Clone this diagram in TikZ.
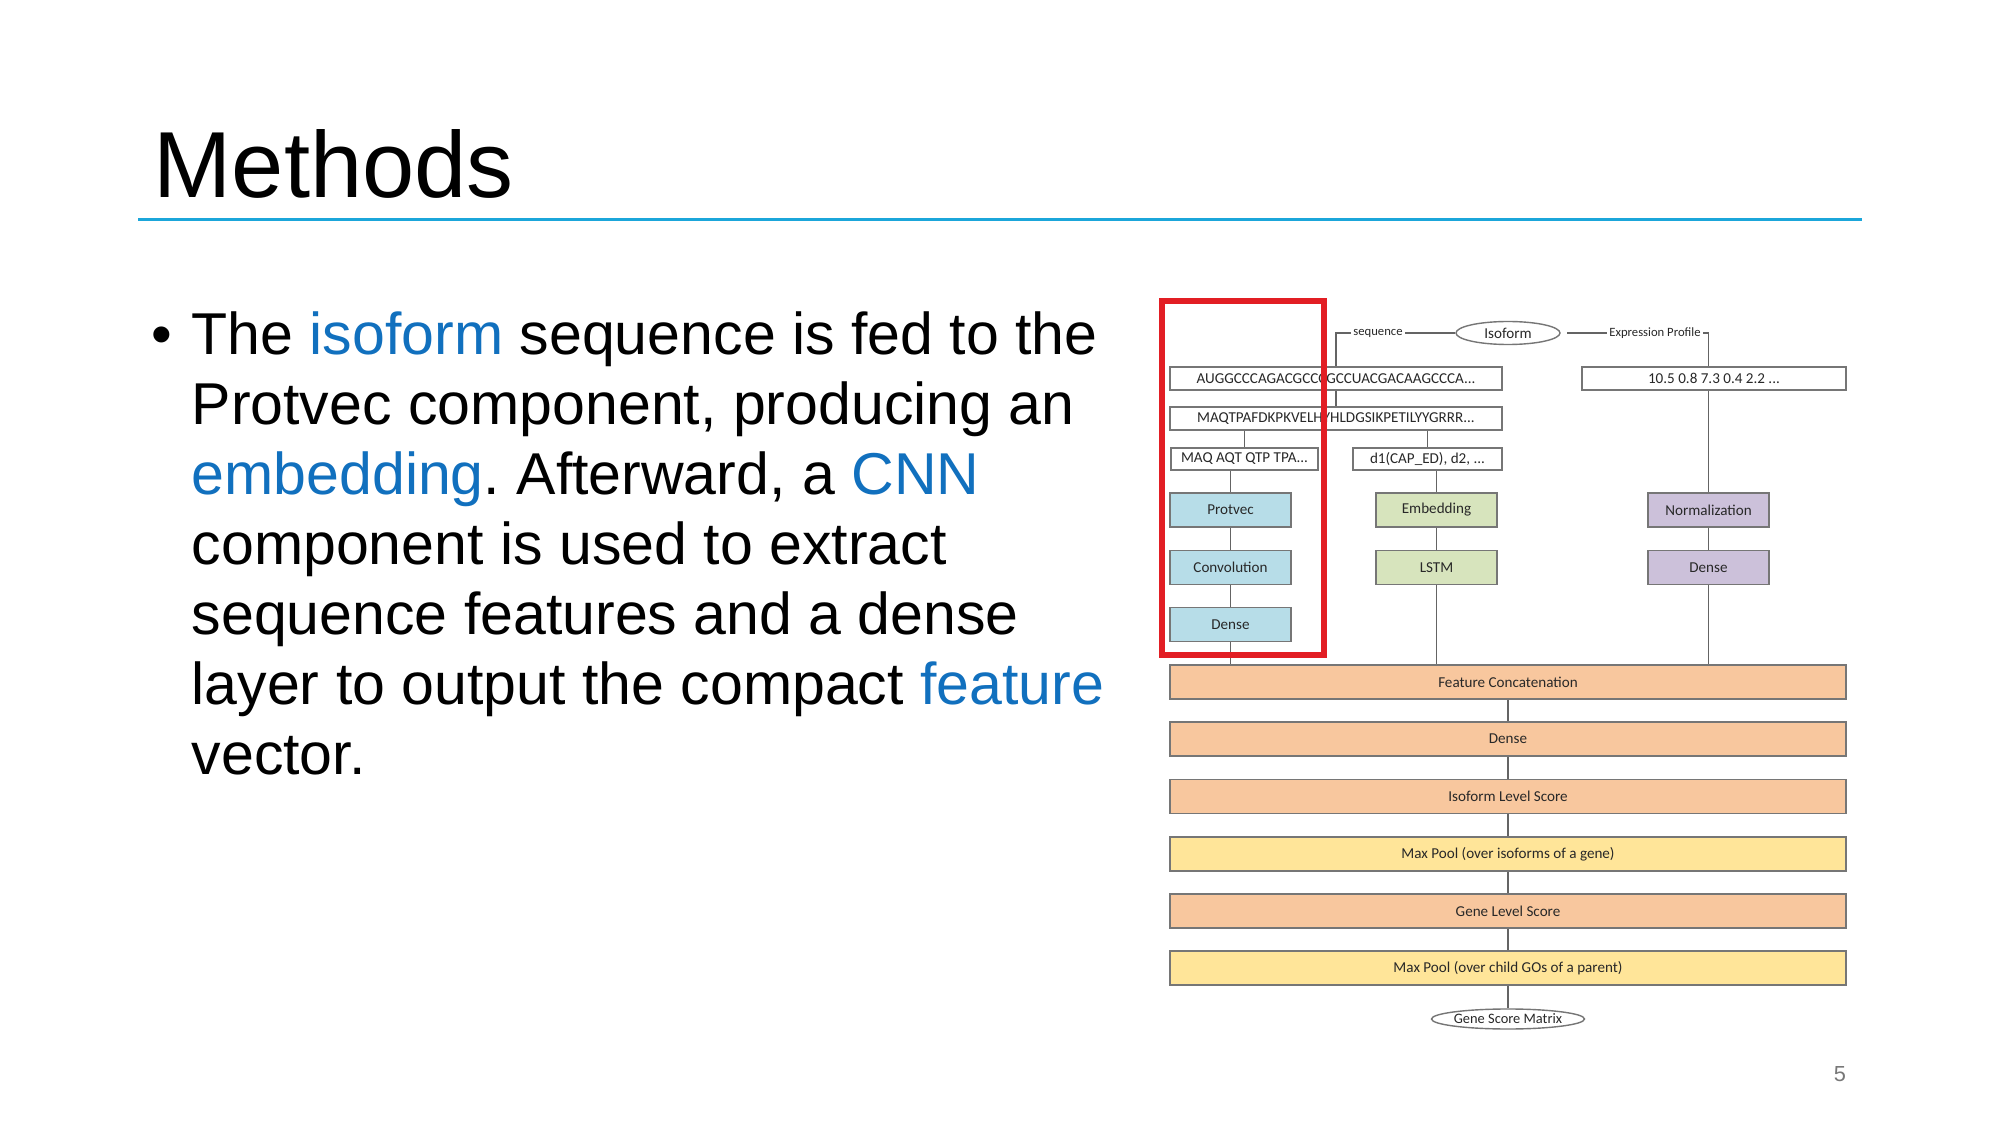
\documentclass[tikz,border=0pt]{standalone}
\usepackage{fontspec}
\setmainfont{Liberation Sans}
\newfontfamily\diagfont{Carlito}
\usetikzlibrary{shapes.geometric}
\definecolor{titleline}{RGB}{27,166,218}
\definecolor{hlblue}{RGB}{17,112,190}
\definecolor{hlred}{RGB}{226,30,36}
\definecolor{boxline}{RGB}{118,118,118}
\definecolor{connline}{RGB}{100,100,100}
\definecolor{dtext}{RGB}{40,40,40}
\definecolor{fblue}{RGB}{183,221,232}
\definecolor{fgreen}{RGB}{215,228,189}
\definecolor{fpurple}{RGB}{204,193,218}
\definecolor{forange}{RGB}{248,199,158}
\definecolor{fyellow}{RGB}{255,229,153}
\definecolor{pagegray}{RGB}{120,120,120}
\newcommand{\bl}[1]{\textcolor{hlblue}{#1}}
\frenchspacing
\tikzset{
  bodyline/.style={anchor=base west, inner sep=0pt, font=\fontsize{16.8}{20}\selectfont},
  dbox/.style={draw=boxline, line width=0.14mm, inner sep=0.5pt, text=dtext,
     font=\diagfont\fontsize{4.3}{5}\selectfont},
  seqbox/.style={dbox, fill=white, minimum height=2.3mm},
  layerbox/.style={dbox, minimum width=12.1mm, minimum height=3.4mm},
  widebox/.style={dbox, minimum width=67.6mm, minimum height=3.4mm, fill=forange},
  oval/.style={ellipse, draw=boxline, line width=0.14mm, fill=white, inner sep=0pt, text=dtext},
  edgelabel/.style={inner sep=0.6pt, text=dtext, font=\diagfont\fontsize{3.6}{4}\selectfont},
  conn/.style={draw=connline, line width=0.14mm},
}
\begin{document}
\begin{tikzpicture}[x=0.1mm, y=-0.1mm]
\useasboundingbox (0,0) rectangle (2000,1125);
\fill[white] (0,0) rectangle (2000,1125);

% title
\node[anchor=base west, inner sep=0pt, font=\fontsize{26.7}{30}\selectfont] (title) at (153,198) {Methods};
\coordinate (tl1) at (138,220);
\coordinate (tl2) at (1862,220);
\draw[titleline, line width=0.3mm] (tl1) -- (tl2);

% bullet text
\node[bodyline] (bul) at (151,355) {\textbullet};
\node[bodyline] (b1) at (191,355) {The \bl{isoform} sequence is fed to the};
\node[bodyline] (b2) at (191,425) {Protvec component, producing an};
\node[bodyline] (b3) at (191,495) {\bl{embedding}. Afterward, a \bl{CNN}};
\node[bodyline] (b4) at (191,565) {component is used to extract};
\node[bodyline] (b5) at (191,635) {sequence features and a dense};
\node[bodyline] (b6) at (191,705) {layer to output the compact \bl{feature}};
\node[bodyline] (b7) at (191,775) {vector.};

% page number
\node[inner sep=0pt, text=pagegray, font=\fontsize{6.2}{7}\selectfont] (pg) at (1840,1074) {5};

% diagram top
\node[oval, minimum width=10.4mm, minimum height=2.3mm, font=\diagfont\fontsize{4.3}{5}\selectfont] (iso) at (1508,333) {Isoform};
\node[edgelabel] (seqlab) at (1378,333) {sequence};
\node[edgelabel] (exlab) at (1655,333) {Expression Profile};
\coordinate (isogap) at (1567,333);

\node[seqbox, minimum width=33.2mm] (aug) at (1336,378.5) {AUGGCCCAGACGCCCGCCUACGACAAGCCCA...};
\node[seqbox, minimum width=33.2mm] (maqtp) at (1336,418.5) {MAQTPAFDKPKVELHYHLDGSIKPETILYYGRRR...};
\node[seqbox, minimum width=14.7mm, minimum height=2.2mm] (maq) at (1244.5,459) {MAQ AQT QTP TPA...};
\node[seqbox, minimum width=14.9mm, minimum height=2.2mm] (d1) at (1427.5,459) {d1(CAP\_ED), d2, ...};
\node[seqbox, minimum width=26.4mm] (expr) at (1714,378.5) {10.5 0.8 7.3 0.4 2.2 ...};

\node[layerbox, fill=fblue] (protvec) at (1230.5,510) {Protvec};
\node[layerbox, fill=fblue] (conv) at (1230.5,567.5) {Convolution};
\node[layerbox, fill=fblue] (dense1) at (1230.5,624.5) {Dense};
\node[layerbox, fill=fgreen] (emb) at (1436.5,510) {Embedding};
\node[layerbox, fill=fgreen] (lstm) at (1436.5,567.5) {LSTM};
\node[layerbox, fill=fpurple] (norm) at (1708.5,510) {Normalization};
\node[layerbox, fill=fpurple] (dense2) at (1708.5,567.5) {Dense};

\node[widebox] (fc) at (1508,682) {Feature Concatenation};
\node[widebox] (dense3) at (1508,739) {Dense};
\node[widebox] (isol) at (1508,796.5) {Isoform Level Score};
\node[widebox, fill=fyellow] (mp1) at (1508,854) {Max Pool (over isoforms of a gene)};
\node[widebox] (gene) at (1508,911) {Gene Level Score};
\node[widebox, fill=fyellow] (mp2) at (1508,968) {Max Pool (over child GOs of a parent)};
\node[oval, minimum width=14.7mm, minimum height=2.0mm, font=\diagfont\fontsize{4.1}{5}\selectfont] (gsm) at (1508,1019) {Gene Score Matrix};

% connectors
\draw[conn] (iso.west) -- (seqlab.east);
\draw[conn] (seqlab.west) -| (aug.north);
\draw[conn] (aug.south) -- (maqtp.north);
\draw[conn] (maqtp.south -| maq.north) -- (maq.north);
\draw[conn] (maqtp.south -| d1.north) -- (d1.north);
\draw[conn] (maq.south -| protvec.north) -- (protvec.north);
\draw[conn] (d1.south -| emb.north) -- (emb.north);
\draw[conn] (isogap) -- (exlab.west);
\draw[conn] (exlab.east) -| (expr.north -| norm.north);
\draw[conn] (expr.south -| norm.north) -- (norm.north);
\draw[conn] (protvec) -- (conv);
\draw[conn] (conv) -- (dense1);
\draw[conn] (dense1.south) -- (dense1.south |- fc.north);
\draw[conn] (emb) -- (lstm);
\draw[conn] (lstm.south) -- (lstm.south |- fc.north);
\draw[conn] (norm) -- (dense2);
\draw[conn] (dense2.south) -- (dense2.south |- fc.north);
\draw[conn] (fc) -- (dense3);
\draw[conn] (dense3) -- (isol);
\draw[conn] (isol) -- (mp1);
\draw[conn] (mp1) -- (gene);
\draw[conn] (gene) -- (mp2);
\draw[conn] (mp2) -- (gsm);

% highlight box
\node[draw=hlred, line width=0.55mm, inner sep=0pt, minimum width=16.2mm, minimum height=35.4mm] (hl) at (1243,478) {};
\end{tikzpicture}
\end{document}
